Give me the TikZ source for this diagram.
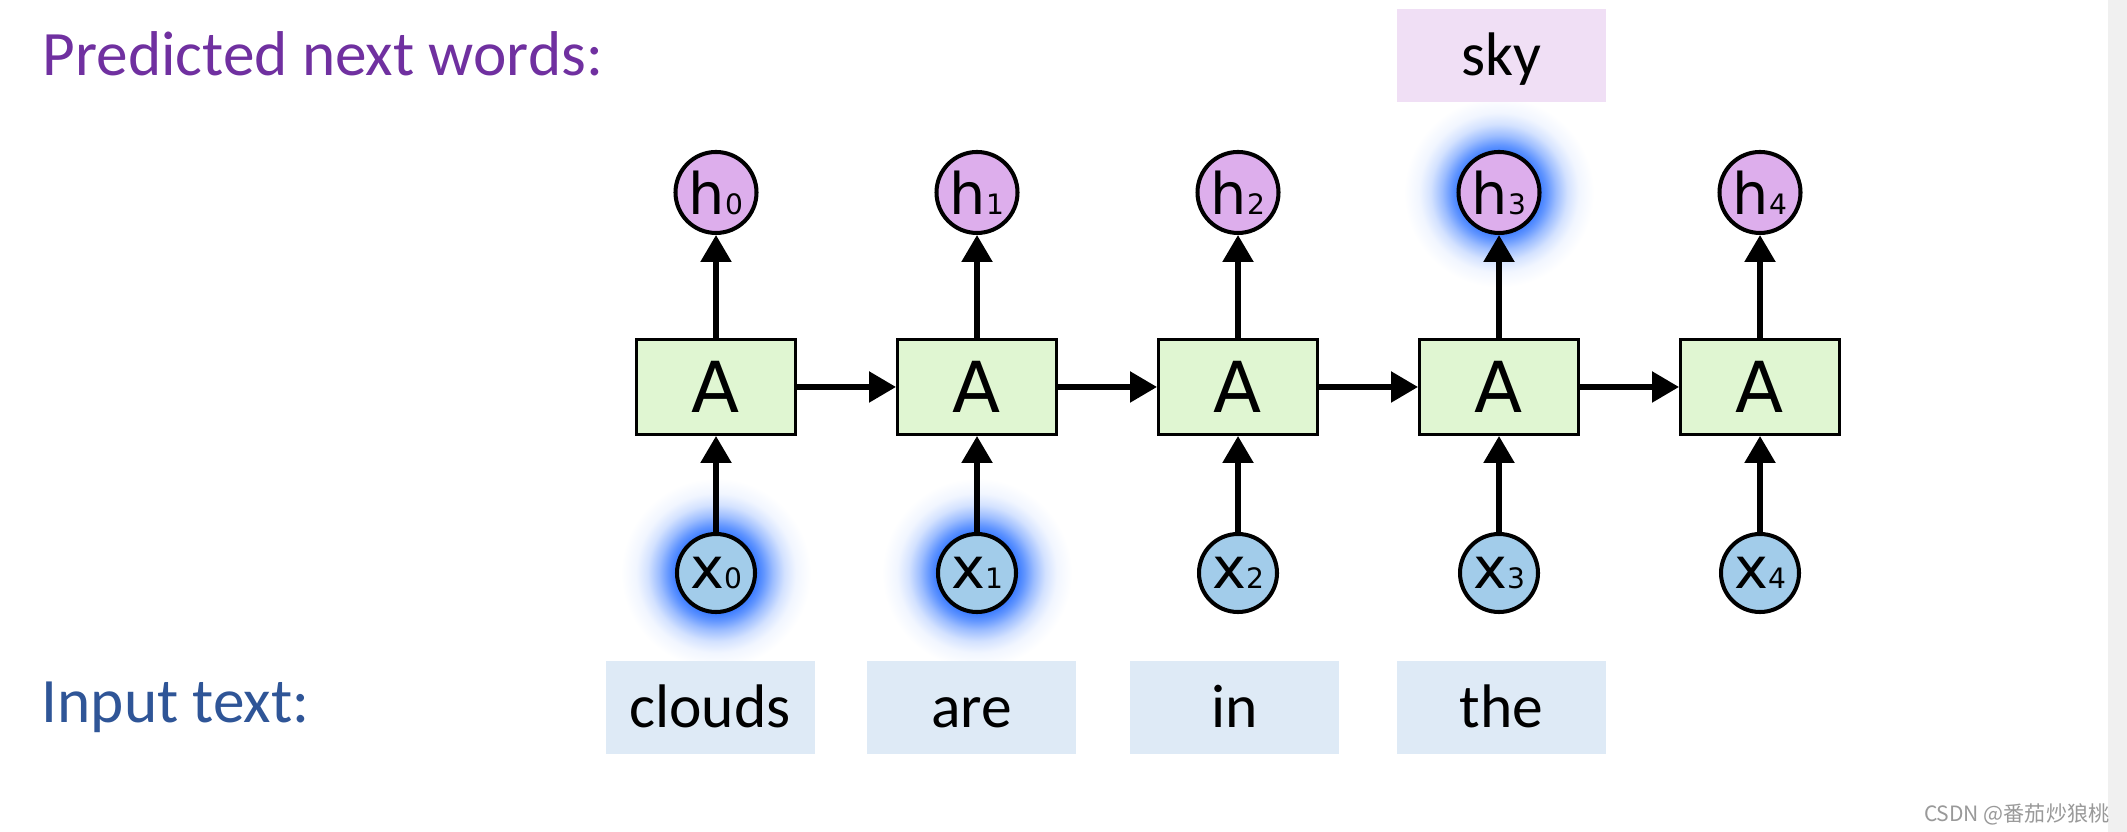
\documentclass[tikz,border=0pt]{standalone}
\usepackage{fontspec}
\setmainfont{Carlito}
\newfontfamily\dejavu{DejaVu Sans}
\newfontfamily\cjk{Noto Sans CJK SC}
\usetikzlibrary{arrows.meta, positioning, backgrounds}

\definecolor{labelpurple}{HTML}{7030A0}
\definecolor{labelblue}{HTML}{2F5597}
\definecolor{cellgreen}{HTML}{E0F6D2}
\definecolor{hpurple}{HTML}{DDAEEC}
\definecolor{xblue}{HTML}{A2CCEA}
\definecolor{wordblue}{HTML}{DEEAF6}
\definecolor{wordpurple}{HTML}{F0DFF5}
\definecolor{glowblue}{HTML}{3A7BFF}
\definecolor{stripgray}{HTML}{F0F0F0}
\definecolor{markgray}{HTML}{999999}

\pgfdeclareradialshading{glow}{\pgfpointorigin}{color(0bp)=(glowblue); color(10.5bp)=(glowblue); color(12.5bp)=(glowblue!80!white); color(15bp)=(glowblue!50!white); color(18bp)=(glowblue!22!white); color(21bp)=(glowblue!7!white); color(25bp)=(white)}

\newcommand\subnum[1]{{\fontsize{8pt}{8pt}\selectfont #1}}

\begin{document}
\begin{tikzpicture}[
    cell/.style={rectangle, draw, line width=0.85pt, fill=cellgreen, minimum width=1.59cm, minimum height=0.95cm, font=\dejavu\fontsize{20pt}{24pt}\selectfont},
    hstate/.style={circle, draw, line width=1.15pt, fill=hpurple, minimum size=0.81cm, inner sep=0pt, font=\dejavu\fontsize{16.3pt}{18pt}\selectfont},
    xinput/.style={hstate, fill=xblue, minimum size=0.78cm},
    word/.style={rectangle, fill=wordblue, minimum width=2.09cm, minimum height=0.93cm, text height=0.5cm, text depth=0.09cm, font=\fontsize{17.5pt}{21pt}\selectfont},
    pred/.style={word, fill=wordpurple},
    sidetext/.style={anchor=base west, inner sep=0pt, font=\fontsize{18pt}{22pt}\selectfont},
    arrow/.style={draw, -{Triangle[length=0.27cm, width=0.30cm]}, line width=1.55pt}
]
\useasboundingbox (0,0) rectangle (21.27,8.32);

% Labels
\node[sidetext, text=labelpurple] (predlbl) at (0.42,7.56) {Predicted next words:};
\node[sidetext, text=labelblue] (inlbl) at (0.41,1.09) {Input text:};

% Cells, states, inputs
\foreach \i/\xx in {0/7.16, 1/9.77, 2/12.38, 3/14.99, 4/17.60} {
  \node[cell] (A\i) at (\xx,4.45) {A};
  \node[hstate, above=1.03cm of A\i] (h\i) {h\subnum{\i}};
  \node[xinput, below=0.96cm of A\i] (x\i) {x\subnum{\i}};
  \draw[arrow] (A\i) -- (h\i);
  \draw[arrow] (x\i) -- (A\i);
}
\foreach \i/\j in {0/1, 1/2, 2/3, 3/4}
  \draw[arrow] (A\i) -- (A\j);

% Words
\foreach \w/\xx [count=\k from 0] in {clouds/7.10, are/9.715, in/12.345, the/15.015}
  \node[word] (w\k) at (\xx,1.245) {\w};
\node[pred] (sky) at (15.015,7.765) {sky};

% Glow
\begin{scope}[on background layer]
  \fill[white] (0,0) rectangle (21.27,8.32);
  \foreach \n in {x0, x1, h3}
    \shade[shading=glow] (\n.center) circle (0.95cm);
\end{scope}

% Edge and watermark
\fill[stripgray] (21.08,0) rectangle (21.27,8.32);
\node[anchor=base east, inner sep=0pt, text=markgray, font=\cjk\fontsize{6pt}{7pt}\selectfont] (mark) at (21.1,0.1) {CSDN @番茄炒狼桃};

\end{tikzpicture}
\end{document}
